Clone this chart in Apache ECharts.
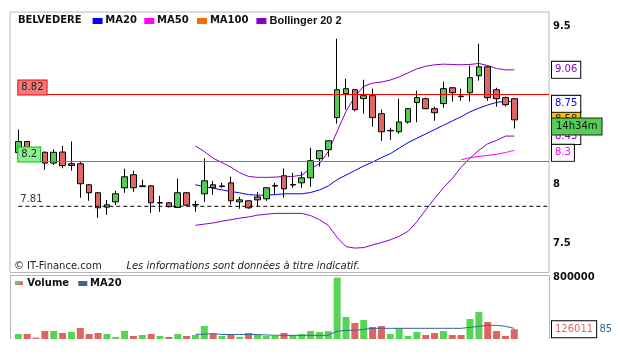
<!DOCTYPE html>
<html><head><meta charset="utf-8">
<script src="https://cdn.jsdelivr.net/npm/echarts@6/dist/echarts.min.js"></script>
<style>html,body{margin:0;padding:0;background:#fff}#c{width:620px;height:362px}</style>
</head><body><div id="c"></div>
<script>
// ---- data ----
const opens  = [8.28,8.38,8.32,8.283,8.186,8.285,8.18,8.18,7.995,7.926,7.803,7.848,7.969,8.083,7.979,7.986,7.838,7.84,7.80,7.926,7.821,7.917,7.995,7.98,8.012,7.848,7.857,7.89,7.874,7.984,8.074,7.993,8.012,8.056,8.225,8.306,8.601,8.828,8.866,8.781,8.809,8.638,8.478,8.47,8.56,8.743,8.78,8.685,8.733,8.885,8.805,8.837,9.002,9.09,8.866,8.79,8.78];
const closes = [8.38,8.29,8.28,8.186,8.283,8.163,8.165,8.004,7.926,7.797,7.823,7.917,8.065,7.969,7.986,7.84,7.842,7.807,7.926,7.82,7.825,8.03,7.969,7.985,7.857,7.865,7.797,7.865,7.969,7.988,7.96,7.997,8.056,8.207,8.297,8.387,8.866,8.876,8.676,8.809,8.601,8.47,8.482,8.56,8.685,8.79,8.685,8.647,8.876,8.837,8.80,8.983,9.09,8.79,8.78,8.723,8.58];
const lows   = [8.27,8.25,8.25,8.127,8.17,8.14,8.12,7.883,7.857,7.713,7.738,7.82,7.926,7.934,7.975,7.755,7.764,7.80,7.797,7.81,7.764,7.848,7.908,7.969,7.823,7.789,7.789,7.81,7.857,7.908,7.883,7.969,7.969,7.977,8.154,8.243,8.545,8.676,8.66,8.638,8.517,8.387,8.396,8.452,8.545,8.557,8.68,8.572,8.695,8.752,8.76,8.752,8.954,8.76,8.704,8.704,8.50];
const highs  = [8.49,8.38,8.33,8.29,8.31,8.34,8.38,8.20,8.00,7.93,7.865,7.943,8.136,8.118,8.039,7.99,7.90,7.845,8.05,7.934,7.857,8.228,8.03,8.012,8.065,7.891,7.86,7.934,7.975,8.012,8.139,8.10,8.11,8.324,8.30,8.39,9.372,8.973,8.87,8.963,8.876,8.676,8.507,8.78,8.69,8.857,8.79,8.704,8.944,8.89,8.876,9.10,9.321,9.10,8.885,8.80,8.78];
const volumes = [64500,64500,17200,103000,103000,77400,90300,142000,64500,77400,64500,25800,103000,38700,51600,64500,38700,25800,64500,38700,51600,168000,64500,38700,51600,25800,77400,51600,38700,38700,77400,51600,64500,103000,90300,103000,791000,284000,206000,245000,155000,168000,64500,138000,38700,90300,51600,77400,103000,51600,51600,258000,348000,219000,103000,38700,126011];
const N = null;
const ma20 = [N,N,N,N,N,N,N,N,N,N,N,N,N,N,N,N,N,N,N,N,7.995,7.98,7.966,7.95,7.937,7.925,7.91,7.905,7.905,7.91,7.917,7.917,7.917,7.928,7.95,7.985,8.04,8.08,8.12,8.16,8.195,8.235,8.27,8.32,8.37,8.41,8.45,8.49,8.53,8.57,8.61,8.655,8.69,8.72,8.745,8.755,8.75];
const ma50 = [N,N,N,N,N,N,N,N,N,N,N,N,N,N,N,N,N,N,N,N,N,N,N,N,N,N,N,N,N,N,N,N,N,N,N,N,N,N,N,N,N,N,N,N,N,N,N,N,N,N,8.216,8.235,8.245,8.255,8.265,8.28,8.30];
const bollUpper = [N,N,N,N,N,N,N,N,N,N,N,N,N,N,N,N,N,N,N,N,8.34,8.29,8.23,8.19,8.15,8.10,8.068,8.06,8.06,8.062,8.068,8.068,8.08,8.138,8.18,8.29,8.473,8.66,8.80,8.90,8.93,8.94,8.96,8.99,9.03,9.07,9.095,9.11,9.116,9.113,9.11,9.113,9.123,9.103,9.073,9.06,9.06];
const bollLower = [N,N,N,N,N,N,N,N,N,N,N,N,N,N,N,N,N,N,N,N,7.65,7.66,7.67,7.685,7.697,7.71,7.72,7.735,7.743,7.75,7.75,7.75,7.75,7.732,7.697,7.65,7.55,7.475,7.463,7.467,7.488,7.508,7.53,7.56,7.60,7.68,7.78,7.876,7.97,8.05,8.15,8.23,8.30,8.36,8.39,8.43,8.43];
const volMa20 = [N,N,N,N,N,N,N,N,N,N,N,N,N,N,N,N,N,N,N,N,60000,62000,70000,58000,58000,58000,58000,58000,52000,48000,47000,47000,47000,47000,47000,48000,99000,112000,112000,125000,137700,137700,137700,137700,137700,137700,137700,137700,137700,137700,137700,150600,163500,176400,176400,163500,137700];
const priceTicks = [7.5, 8, 9.5];
const volumeTicks = [800000];
const resistanceLevel = 8.82;
const supportLevel = 8.2;
const lowLevel = 7.81;
const lastTime = '14h34m';

// ---- layout / style constants ----
const X_MIN = -0.937, X_MAX = 59.92;
const Y_MIN = 7.2674, Y_MAX = 9.6483;
const FONT = 'DejaVu Sans';
const GREEN = '#52cc52', RED = '#e06666';

const pairs = arr => arr.map((v, i) => [i, v]).filter(p => p[1] != null);
const last = arr => arr[arr.length - 1];
const fmt = v => String(+(+v).toFixed(2));

const candleData = opens.map((o, i) => [i, o, closes[i], lows[i], highs[i]]);
const volData = volumes.map((v, i) => ({
  value: [i, v],
  itemStyle: { color: (i === 0 || closes[i] >= closes[i - 1]) ? '#55d455' : '#e06464' }
}));

function endBox(value, color, z, extra) {
  return {
    silent: true, symbol: 'none', z: z,
    lineStyle: { color: 'rgba(0,0,0,0)', width: 1 },
    label: Object.assign({
      show: true, position: 'end', distance: 3, formatter: p => fmt(p.value),
      color: color, backgroundColor: '#fff', borderColor: '#000', borderWidth: 1,
      padding: [3, 3, 3, 3], fontFamily: FONT, fontSize: 10
    }, extra || {}),
    data: [{ yAxis: value }]
  };
}

function levelSeries(name, level, color, type, labelStyle) {
  return {
    name: name, type: 'line', xAxisIndex: 0, yAxisIndex: 0, z: 4,
    data: [[0, level], [X_MAX, level]],
    symbol: 'none', silent: true,
    lineStyle: { color: color, type: type, width: 1 },
    markLine: {
      silent: true, symbol: 'none', z: 5,
      lineStyle: { color: 'rgba(0,0,0,0)', width: 1 },
      label: Object.assign({ show: true, position: 'insideStartTop', formatter: fmt(level),
        fontFamily: FONT, fontSize: 10, color: '#222' }, labelStyle),
      data: [[{ coord: [0, level] }, { coord: [X_MAX, level] }]]
    }
  };
}

const chart = echarts.init(document.getElementById('c'), null, { renderer: 'canvas' });
chart.setOption({
  animation: false,
  backgroundColor: '#fff',
  grid: [
    { left: 10, right: 71, top: 12, bottom: 89.5, show: true, borderColor: '#b8b8b8', borderWidth: 1, backgroundColor: 'transparent' },
    { left: 10, right: 71, top: 275.5, bottom: 23, show: false }
  ],
  xAxis: [
    { type: 'value', gridIndex: 0, min: X_MIN, max: X_MAX, show: false },
    { type: 'value', gridIndex: 1, min: X_MIN, max: X_MAX, show: false }
  ],
  yAxis: [
    { type: 'log', gridIndex: 0, position: 'right', min: Y_MIN, max: Y_MAX,
      axisLine: { show: false }, axisTick: { show: false }, splitLine: { show: false },
      axisLabel: { customValues: priceTicks, margin: 4, fontFamily: FONT, fontSize: 10, fontWeight: 'bold', color: '#111', formatter: v => fmt(v) } },
    { type: 'value', gridIndex: 1, position: 'right', min: 0, max: 819355,
      axisLine: { show: false }, axisTick: { show: false }, splitLine: { show: false },
      axisLabel: { customValues: volumeTicks, margin: 4, fontFamily: FONT, fontSize: 10, fontWeight: 'bold', color: '#111', formatter: v => String(Math.round(v)) } }
  ],
  series: [
    { name: 'Bollinger 20 2', type: 'line', xAxisIndex: 0, yAxisIndex: 0, data: pairs(bollUpper),
      symbol: 'none', lineStyle: { color: '#8800cc', width: 1 }, z: 2,
      markLine: endBox(last(bollUpper), '#8800cc', 6) },
    { name: 'Bollinger 20 2', type: 'line', xAxisIndex: 0, yAxisIndex: 0, data: pairs(bollLower),
      symbol: 'none', lineStyle: { color: '#8800cc', width: 1 }, z: 2,
      markLine: endBox(last(bollLower), '#8800cc', 6) },
    { name: 'MA20', type: 'line', xAxisIndex: 0, yAxisIndex: 0, data: pairs(ma20),
      symbol: 'none', lineStyle: { color: '#0000ff', width: 1 }, z: 2,
      markLine: endBox(last(ma20), '#0000ff', 8, { offset: [0, 2] }) },
    { name: 'MA50', type: 'line', xAxisIndex: 0, yAxisIndex: 0, data: pairs(ma50),
      symbol: 'none', lineStyle: { color: '#ff00ff', width: 1 }, z: 2,
      markLine: endBox(last(ma50), '#ff00ff', 7, { offset: [0, 2.5] }) },
    { name: 'BELVEDERE', type: 'candlestick', xAxisIndex: 0, yAxisIndex: 0, data: candleData,
      barWidth: 6, z: 3,
      itemStyle: { color: GREEN, color0: RED, borderColor: '#000', borderColor0: '#000', borderWidth: 1 } },
    levelSeries('Resistance', resistanceLevel, '#ff0000', 'solid', { backgroundColor: '#f27c7c', borderColor: '#ff0000', borderWidth: 1, padding: [2, 3, 2, 3], distance: [0, 0] }),
    levelSeries('Support', supportLevel, '#22bb22', 'solid', { backgroundColor: '#8ef08e', borderColor: '#11bb11', borderWidth: 1, padding: [2, 3, 2, 3], distance: [0, 0] }),
    levelSeries('Low', lowLevel, '#000000', [4, 3], { color: '#333', distance: [2, 2] }),
    { name: 'Close', type: 'line', xAxisIndex: 0, yAxisIndex: 0, data: [], z: 1,
      markLine: endBox(last(closes), '#222', 5, { backgroundColor: '#ffc000', borderColor: '#000' }) },
    { name: 'Volume', type: 'bar', xAxisIndex: 1, yAxisIndex: 1, data: volData, barWidth: 7,
      markLine: endBox(last(volumes), '#e06666', 5, { formatter: p => String(Math.round(p.value)) }) },
    { name: 'Volume MA20', type: 'line', xAxisIndex: 1, yAxisIndex: 1, data: pairs(volMa20),
      symbol: 'none', lineStyle: { color: '#336699', width: 1 }, z: 3 }
  ],
  graphic: [
    { type: 'text', z: 50, style: { x: 17.9, y: 20.7, text: 'BELVEDERE', font: 'bold 10px "DejaVu Sans"', fill: '#111', verticalAlign: 'middle' } },
    { type: 'rect', z: 50, shape: { x: 92.6, y: 18, width: 10, height: 6 }, style: { fill: '#0000ff' } },
    { type: 'text', z: 50, style: { x: 105.3, y: 20.7, text: 'MA20', font: 'bold 10px "DejaVu Sans"', fill: '#111', verticalAlign: 'middle' } },
    { type: 'rect', z: 50, shape: { x: 144.3, y: 18, width: 10, height: 6 }, style: { fill: '#ff00ff' } },
    { type: 'text', z: 50, style: { x: 157, y: 20.7, text: 'MA50', font: 'bold 10px "DejaVu Sans"', fill: '#111', verticalAlign: 'middle' } },
    { type: 'rect', z: 50, shape: { x: 197, y: 18, width: 10, height: 6 }, style: { fill: '#ff6a00' } },
    { type: 'text', z: 50, style: { x: 209.9, y: 20.7, text: 'MA100', font: 'bold 10px "DejaVu Sans"', fill: '#111', verticalAlign: 'middle' } },
    { type: 'rect', z: 50, shape: { x: 256.4, y: 18, width: 10, height: 6 }, style: { fill: '#8800cc' } },
    { type: 'text', z: 50, style: { x: 269.5, y: 20.7, text: 'Bollinger 20 2', font: 'bold 11px "Liberation Sans"', fill: '#111', verticalAlign: 'middle' } },
    { type: 'text', z: 50, style: { x: 13.9, y: 266.7, text: '© IT-Finance.com', font: '10px "DejaVu Sans"', fill: '#222', verticalAlign: 'middle' } },
    { type: 'text', z: 50, style: { x: 126.4, y: 266.7, text: 'Les informations sont données à titre indicatif.', font: 'italic 10px "DejaVu Sans"', fill: '#222', verticalAlign: 'middle' } },
    { type: 'polyline', z: 50, shape: { points: [[10.5, 339], [10.5, 275.5], [549.5, 275.5], [549.5, 339]] }, style: { stroke: '#b8b8b8', fill: null, lineWidth: 1 } },
    { type: 'polygon', z: 50, shape: { points: [[15, 281], [23, 281], [15, 285]] }, style: { fill: '#55d455' } },
    { type: 'polygon', z: 50, shape: { points: [[23, 281], [23, 285], [15, 285]] }, style: { fill: '#e06464' } },
    { type: 'text', z: 50, style: { x: 27.3, y: 283.3, text: 'Volume', font: 'bold 10px "DejaVu Sans"', fill: '#111', verticalAlign: 'middle' } },
    { type: 'rect', z: 50, shape: { x: 78.3, y: 281, width: 9, height: 5 }, style: { fill: '#336699' } },
    { type: 'text', z: 50, style: { x: 90, y: 283.3, text: 'MA20', font: 'bold 10px "DejaVu Sans"', fill: '#111', verticalAlign: 'middle' } },
    { type: 'text', z: 100, style: { x: 552, y: 118.5, text: lastTime, font: '10px "DejaVu Sans"', fill: '#111', backgroundColor: '#55cc55', borderColor: '#222', borderWidth: 1, padding: [3, 4, 3, 4] } },
    { type: 'text', z: 50, style: { x: 599.5, y: 329.2, text: '85', font: '10px "DejaVu Sans"', fill: '#336699', verticalAlign: 'middle' } }
  ]
});
</script></body></html>
